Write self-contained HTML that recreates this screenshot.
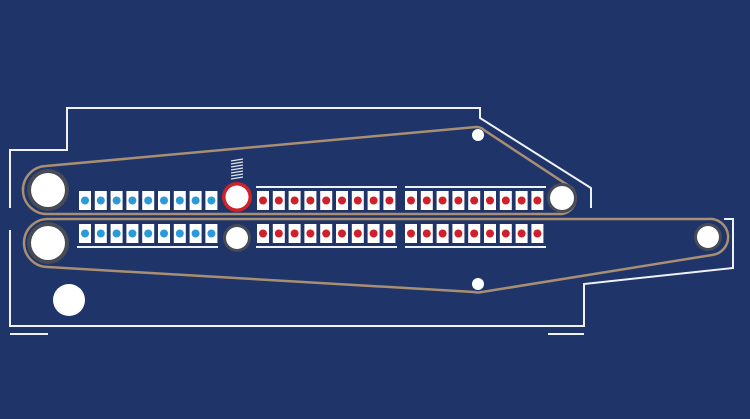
<!DOCTYPE html>
<html><head><meta charset="utf-8"><style>html,body{margin:0;padding:0;background:#1f3468;}svg{display:block}</style></head>
<body>
<svg width="750" height="419" viewBox="0 0 750 419" xmlns="http://www.w3.org/2000/svg" xmlns:xlink="http://www.w3.org/1999/xlink">
<defs>
<g id="b"><rect x="-6" y="0" width="12" height="19" fill="#fff"/><circle cx="0" cy="9.5" r="4" fill="#2a9ad8"/></g>
<g id="r"><rect x="-6" y="0" width="12" height="19" fill="#fff"/><circle cx="0" cy="9.5" r="4" fill="#d0202a"/></g>
</defs>
<rect width="750" height="419" fill="#1f3468"/>
<g fill="none" stroke="#eef2f8" stroke-width="2">
<polyline points="10,208 10,150 67,150 67,108 480,108 480,118 591,188 591,208"/>
<polyline points="10,230 10,326 584,326 584,284 733,268 733,219 724,219"/>
<line x1="10" y1="334" x2="48" y2="334"/>
<line x1="548" y1="334" x2="584" y2="334"/>
<line x1="77" y1="247" x2="218" y2="247"/>
<line x1="256" y1="187" x2="397" y2="187"/>
<line x1="405" y1="187" x2="546" y2="187"/>
<line x1="256" y1="247" x2="397" y2="247"/>
<line x1="405" y1="247" x2="546" y2="247"/>
</g>
<g fill="none" stroke="#a88e72" stroke-width="2.5">
<path d="M48,214 A24,24 0 0 1 46,166 L476,127 Q481,127 484,130 L572,188 A16,16 0 0 1 562,214 Z"/>
<path d="M48,219 L708,219 A18,18 0 0 1 712,255 L482,292 Q478,293 474,292 L48,267 A24,24 0 0 1 48,219 Z"/>
</g>
<g>
<circle cx="48" cy="190" r="21" fill="#474b55"/><circle cx="48" cy="190" r="17" fill="#fff"/>
<circle cx="48" cy="243" r="21" fill="#474b55"/><circle cx="48" cy="243" r="17" fill="#fff"/>
<circle cx="562" cy="198" r="15" fill="#474b55"/><circle cx="562" cy="198" r="12" fill="#fff"/>
<circle cx="708" cy="237" r="14" fill="#474b55"/><circle cx="708" cy="237" r="11" fill="#fff"/>
<circle cx="237" cy="238" r="14" fill="#474b55"/><circle cx="237" cy="238" r="11" fill="#fff"/>
<circle cx="237" cy="197" r="15" fill="#d0202a"/><circle cx="237" cy="197" r="11.5" fill="#fff"/>
<circle cx="478" cy="135" r="6" fill="#fff"/>
<circle cx="478" cy="284" r="6" fill="#fff"/>
<circle cx="69" cy="300" r="16" fill="#fff"/>
</g>
<g stroke="#dfe4ee" stroke-width="1.3">
<line x1="231" y1="161" x2="243" y2="159"/><line x1="231" y1="164" x2="243" y2="162"/><line x1="231" y1="167" x2="243" y2="165"/><line x1="231" y1="170" x2="243" y2="168"/><line x1="231" y1="173" x2="243" y2="171"/><line x1="231" y1="176" x2="243" y2="174"/><line x1="231" y1="179" x2="243" y2="177"/>
</g>
<g>
<use href="#b" xlink:href="#b" x="85" y="191"/><use href="#b" xlink:href="#b" x="100.8" y="191"/><use href="#b" xlink:href="#b" x="116.6" y="191"/><use href="#b" xlink:href="#b" x="132.4" y="191"/><use href="#b" xlink:href="#b" x="148.2" y="191"/><use href="#b" xlink:href="#b" x="164" y="191"/><use href="#b" xlink:href="#b" x="179.8" y="191"/><use href="#b" xlink:href="#b" x="195.6" y="191"/><use href="#b" xlink:href="#b" x="211.4" y="191"/>
<use href="#b" xlink:href="#b" x="85" y="224"/><use href="#b" xlink:href="#b" x="100.8" y="224"/><use href="#b" xlink:href="#b" x="116.6" y="224"/><use href="#b" xlink:href="#b" x="132.4" y="224"/><use href="#b" xlink:href="#b" x="148.2" y="224"/><use href="#b" xlink:href="#b" x="164" y="224"/><use href="#b" xlink:href="#b" x="179.8" y="224"/><use href="#b" xlink:href="#b" x="195.6" y="224"/><use href="#b" xlink:href="#b" x="211.4" y="224"/>
<use href="#r" xlink:href="#r" x="263" y="191"/><use href="#r" xlink:href="#r" x="278.8" y="191"/><use href="#r" xlink:href="#r" x="294.6" y="191"/><use href="#r" xlink:href="#r" x="310.4" y="191"/><use href="#r" xlink:href="#r" x="326.2" y="191"/><use href="#r" xlink:href="#r" x="342" y="191"/><use href="#r" xlink:href="#r" x="357.8" y="191"/><use href="#r" xlink:href="#r" x="373.6" y="191"/><use href="#r" xlink:href="#r" x="389.4" y="191"/>
<use href="#r" xlink:href="#r" x="263" y="224"/><use href="#r" xlink:href="#r" x="278.8" y="224"/><use href="#r" xlink:href="#r" x="294.6" y="224"/><use href="#r" xlink:href="#r" x="310.4" y="224"/><use href="#r" xlink:href="#r" x="326.2" y="224"/><use href="#r" xlink:href="#r" x="342" y="224"/><use href="#r" xlink:href="#r" x="357.8" y="224"/><use href="#r" xlink:href="#r" x="373.6" y="224"/><use href="#r" xlink:href="#r" x="389.4" y="224"/>
<use href="#r" xlink:href="#r" x="411" y="191"/><use href="#r" xlink:href="#r" x="426.8" y="191"/><use href="#r" xlink:href="#r" x="442.6" y="191"/><use href="#r" xlink:href="#r" x="458.4" y="191"/><use href="#r" xlink:href="#r" x="474.2" y="191"/><use href="#r" xlink:href="#r" x="490" y="191"/><use href="#r" xlink:href="#r" x="505.8" y="191"/><use href="#r" xlink:href="#r" x="521.6" y="191"/><use href="#r" xlink:href="#r" x="537.4" y="191"/>
<use href="#r" xlink:href="#r" x="411" y="224"/><use href="#r" xlink:href="#r" x="426.8" y="224"/><use href="#r" xlink:href="#r" x="442.6" y="224"/><use href="#r" xlink:href="#r" x="458.4" y="224"/><use href="#r" xlink:href="#r" x="474.2" y="224"/><use href="#r" xlink:href="#r" x="490" y="224"/><use href="#r" xlink:href="#r" x="505.8" y="224"/><use href="#r" xlink:href="#r" x="521.6" y="224"/><use href="#r" xlink:href="#r" x="537.4" y="224"/>
</g>
</svg>
</body></html>
